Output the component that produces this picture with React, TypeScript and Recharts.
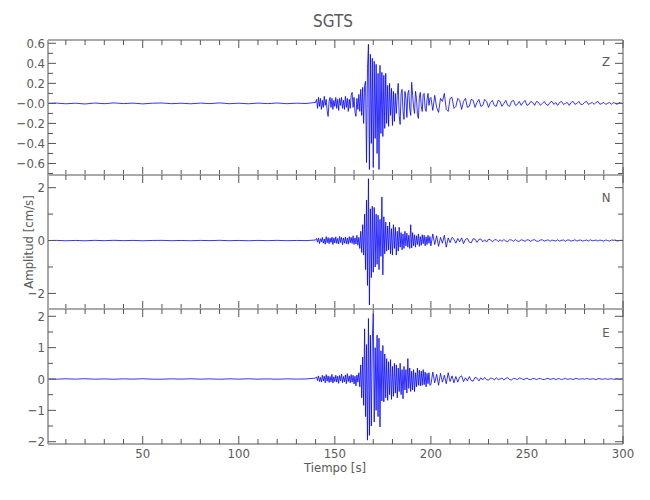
import React from "react";
import { LineChart, Line, XAxis, YAxis } from "recharts";

/**
 * SGTS 3성분 속도 기록 (Z / N / E)
 * 각 성분은 세 구간으로 기록: 사전잡음(5 s 간격), 강진동(0.5 s 간격), 코다(1 s 간격)
 */

// 샘플링 격자: 구간 시작시각 + 샘플 간격 (s)
const PRE_T0 = 0;
const PRE_DT = 5;
const MAIN_T0 = 140;
const MAIN_DT = 0.5;
const CODA_T0 = 200;
const CODA_DT = 1;

// ---- Z (수직) ----
const PRE_Z = [
  0, 0.003, -0.004, 0.002, -0.006, 0.004, -0.003, 0.005, -0.002, 0.003,
  -0.005, 0.002, 0.004, -0.003, 0.002, -0.004, 0.003, -0.002, 0.005, -0.003,
  0.002, -0.004, 0.003, -0.002, 0.004, -0.003, 0.002, -0.001,
];
const MAIN_Z = [
  0.01, 0.04, -0.05, 0.06, -0.03, 0.05, -0.06, 0.03, -0.04, 0.07,
  -0.02, 0.04, -0.07, -0.13, 0.02, 0.06, -0.04, 0.05, -0.06, 0.03,
  -0.03, 0.06, -0.05, 0.04, -0.07, 0.05, -0.02, 0.06, -0.05, 0.03,
  -0.06, 0.07, -0.04, 0.05, -0.08, 0.04, -0.05, 0.08, 0.11, -0.04,
  0.06, -0.09, -0.13, 0.05, -0.06, 0.09, -0.08, 0.14, -0.12, 0.16,
  -0.2, 0.18, 0.22, -0.59, 0.35, 0.59, -0.66, 0.49, -0.4, 0.45,
  -0.64, 0.42, -0.35, 0.39, -0.5, 0.3, -0.66, 0.38, -0.3, 0.31,
  -0.33, 0.28, -0.25, 0.3, -0.2, 0.18, -0.23, 0.2, -0.12, 0.15,
  -0.22, 0.12, -0.18, 0.1, -0.1, 0.08, 0.2, -0.12, -0.21, 0.1,
  0.14, -0.08, -0.16, 0.12, 0.05, -0.14, 0.1, 0.13, -0.06, -0.12,
  0.21, 0.08, -0.04, -0.1, 0.12, 0.05, -0.11, -0.15, 0.06, 0.11,
  -0.03, -0.08, 0.09, 0.1, -0.05, -0.08, 0.04, 0.1, -0.02, 0.05,
];
const CODA_Z = [
  0.06, -0.07, 0.08, -0.04, -0.09, 0.05, 0.02, 0.1, -0.06, -0.08,
  0.05, 0.06, -0.05, -0.03, 0.05, 0.03, -0.06, 0.02, 0.05, -0.04,
  -0.03, 0.04, 0.03, -0.04, 0.01, 0.04, -0.03, -0.02, 0.04, 0.02,
  -0.04, 0.01, 0.03, -0.02, -0.03, 0.03, 0.02, -0.03, 0.0, 0.03,
  -0.02, -0.03, 0.02, 0.03, -0.02, -0.01, 0.02, -0.02, 0.01, 0.03,
  -0.02, -0.01, 0.02, 0.01, -0.02, 0.02, 0.01, -0.02, 0.0, 0.02,
  -0.01, -0.02, 0.01, 0.02, -0.01, 0.01, -0.02, 0.01, 0.02, -0.01,
  0.0, 0.01, -0.02, 0.01, 0.02, -0.01, 0.0, 0.02, -0.01, -0.01,
  0.01, 0.02, -0.01, 0.0, 0.01, -0.01, 0.01, 0.02, -0.01, 0.0,
  0.01, -0.01, 0.0, 0.01, -0.01, 0.01, 0.0, -0.01, 0.01, 0.0,
  0.01,
];

// ---- N (남북) ----
const PRE_N = [
  0, 0.006, -0.008, 0.004, -0.01, 0.008, -0.005, 0.009, -0.004, 0.006,
  -0.009, 0.004, 0.007, -0.006, 0.004, -0.008, 0.006, -0.004, 0.009, -0.006,
  0.004, -0.008, 0.006, -0.004, 0.008, -0.006, 0.004, -0.002,
];
const MAIN_N = [
  0.02, 0.08, -0.06, 0.1, -0.12, 0.07, -0.05, 0.12, -0.1, 0.06,
  -0.14, 0.15, -0.08, 0.11, -0.12, 0.09, -0.07, 0.13, -0.15, 0.1,
  -0.09, 0.14, -0.11, 0.08, -0.13, 0.16, -0.07, 0.12, -0.16, 0.1,
  -0.1, 0.13, -0.12, 0.09, -0.14, 0.15, -0.08, 0.12, -0.11, 0.18,
  -0.15, 0.1, -0.13, 0.2, -0.18, 0.12, -0.3, 0.35, -0.45, 0.6,
  -0.55, 1.0, -1.1, 1.53, -1.7, 2.34, -2.44, 1.2, -1.4, 1.3,
  -1.2, 1.25, -1.0, 1.0, -0.9, 0.96, -1.1, 0.8, -0.6, 1.65,
  -1.3, 0.9, -0.5, 0.7, -0.4, 0.55, -0.35, 0.7, -0.5, 0.45,
  -0.55, 0.6, -0.3, 0.5, -0.55, 0.35, -0.4, 0.5, -0.25, 0.3,
  -0.35, 0.25, -0.3, 0.35, -0.2, 0.28, -0.25, 0.2, -0.3, 0.6,
  -0.28, 0.3, -0.2, 0.22, -0.25, 0.18, -0.15, 0.25, -0.22, 0.15,
  -0.18, 0.22, -0.12, 0.2, -0.2, 0.14, -0.15, 0.2, -0.1, 0.15,
];
const CODA_N = [
  -0.2, 0.25, -0.15, 0.18, -0.22, 0.12, -0.1, 0.2, -0.25, 0.1,
  -0.08, 0.12, 0.05, -0.1, 0.08, -0.05, 0.1, -0.12, 0.04, 0.08,
  -0.06, -0.09, 0.07, 0.05, -0.07, 0.04, 0.06, -0.05, 0.03, -0.06,
  0.05, 0.03, -0.05, 0.02, 0.04, -0.04, 0.03, -0.03, 0.04, -0.02,
  -0.04, 0.03, 0.02, -0.03, 0.04, -0.02, -0.03, 0.03, 0.01, -0.03,
  0.03, 0.02, -0.03, 0.02, 0.03, -0.02, -0.03, 0.02, 0.03, -0.02,
  0.0, 0.03, -0.03, 0.02, 0.0, -0.02, 0.03, -0.02, 0.01, 0.02,
  -0.03, 0.02, 0.02, -0.02, 0.0, 0.03, -0.02, 0.01, 0.02, -0.02,
  0.0, 0.02, -0.02, 0.03, -0.01, 0.0, 0.02, -0.02, 0.02, 0.0,
  -0.02, 0.02, 0.0, -0.02, 0.02, 0.01, 0.02, -0.02, 0.0, 0.01,
  0.0,
];

// ---- E (동서) ----
const PRE_E = [
  0, -0.005, 0.007, -0.004, 0.009, -0.006, 0.004, -0.008, 0.005, -0.004,
  0.008, -0.005, -0.006, 0.005, -0.004, 0.007, -0.005, 0.004, -0.008, 0.005,
  -0.004, 0.007, -0.005, 0.004, -0.007, 0.005, -0.003, 0.002,
];
const MAIN_E = [
  0.03, 0.07, -0.05, 0.1, -0.08, 0.05, -0.1, 0.12, -0.06, 0.09,
  -0.12, 0.14, -0.07, 0.1, -0.11, 0.08, -0.09, 0.15, -0.13, 0.07,
  -0.08, 0.12, -0.1, 0.09, -0.14, 0.11, -0.06, 0.16, -0.12, 0.08,
  -0.09, 0.13, -0.15, 0.17, -0.08, 0.1, -0.12, 0.14, -0.1, 0.12,
  -0.16, 0.09, -0.22, 0.13, -0.1, 0.2, -0.25, 0.45, -0.6, 0.7,
  -0.84, 1.6, -1.2, 1.1, -1.95, 1.93, -1.8, 1.4, -1.5, 1.2,
  2.09, -1.37, 1.0, -1.0, 1.4, -1.2, 1.3, -1.53, 0.9, -0.7,
  1.07, -0.73, 0.8, -0.6, 0.65, -0.68, 0.55, -0.5, 0.62, -0.65,
  0.4, -0.55, 0.5, -0.45, 0.45, -0.6, 0.35, -0.4, 0.5, -0.5,
  0.3, -0.63, 0.4, -0.35, 0.3, -0.45, 0.65, -0.3, 0.35, -0.4,
  0.25, -0.35, 0.3, -0.4, 0.2, -0.25, 0.35, -0.2, 0.28, -0.22,
  0.25, -0.2, 0.3, -0.18, 0.22, -0.25, 0.18, -0.15, 0.2, -0.2,
];
const CODA_E = [
  -0.18, 0.22, -0.12, 0.15, -0.2, 0.18, -0.1, 0.12, -0.15, 0.2,
  -0.08, 0.1, -0.12, 0.08, -0.1, 0.06, 0.1, -0.08, 0.04, -0.06,
  0.08, -0.05, -0.07, 0.05, 0.03, -0.06, 0.04, -0.03, 0.05, -0.02,
  -0.04, 0.03, 0.02, -0.03, 0.04, -0.02, 0.0, 0.03, -0.03, 0.02,
  0.04, -0.02, -0.03, 0.02, 0.01, -0.02, 0.03, 0.02, -0.02, 0.0,
  0.03, -0.01, -0.02, 0.02, 0.01, -0.02, 0.01, 0.02, -0.01, -0.02,
  0.01, 0.02, -0.01, 0.0, 0.02, -0.02, 0.01, 0.01, -0.02, 0.0,
  0.02, -0.01, 0.0, 0.01, -0.02, 0.01, 0.02, -0.01, 0.0, 0.01,
  -0.01, 0.02, 0.0, -0.01, 0.01, 0.0, -0.02, 0.01, 0.01, -0.01,
  0.0, 0.01, -0.01, 0.0, 0.01, -0.01, 0.0, 0.01, -0.01, 0.0,
  0.01,
];

// ---- 축 눈금 ----
const X_TICKS = [
  10, 20, 30, 40, 50, 60, 70, 80, 90, 100, 110, 120, 130, 140, 150,
  160, 170, 180, 190, 200, 210, 220, 230, 240, 250, 260, 270, 280, 290, 300,
];
const X_MAJOR = [50, 100, 150, 200, 250, 300];
const X_DOMAIN = [0.7, 300];

const Z_TICKS = [-0.7, -0.6, -0.5, -0.4, -0.3, -0.2, -0.1, 0, 0.1, 0.2, 0.3, 0.4, 0.5, 0.6];
const Z_MAJOR = [-0.6, -0.4, -0.2, 0, 0.2, 0.4, 0.6];
const Z_DOMAIN = [-0.715, 0.633];

const N_TICKS = [-2, -1, 0, 1, 2];
const N_MAJOR = [-2, 0, 2];
const N_DOMAIN = [-2.59, 2.48];

const E_TICKS = [-2, -1.5, -1, -0.5, 0, 0.5, 1, 1.5, 2];
const E_MAJOR = [-2, -1, 0, 1, 2];
const E_DOMAIN = [-2.073, 2.233];

const FONT = "'Liberation Sans Narrow', 'DejaVu Sans Condensed', sans-serif";
const TEXT = "#5a5a5a";
const FRAME = "#a9a9a9";
const TICK = "#555555";
const TRACE = "#0000ff";

type Row = { t: number; v: number };

function toRows(pre: number[], main: number[], coda: number[]): Row[] {
  const rows: Row[] = [];
  pre.forEach((v, i) => rows.push({ t: PRE_T0 + i * PRE_DT, v }));
  main.forEach((v, i) => rows.push({ t: MAIN_T0 + i * MAIN_DT, v }));
  coda.forEach((v, i) => rows.push({ t: CODA_T0 + i * CODA_DT, v }));
  return rows;
}

const minus = (s: string) => s.replace("-", "\u2212");
const fmtZ = (v: number) => (v === 0 ? "\u22120.0" : minus(v.toFixed(1)));
const fmtInt = (v: number) => minus(String(v));

type Side = "bottom" | "top" | "left" | "right";

/** 안쪽으로 향하는 눈금 (주눈금 길게, 보조눈금 짧게) */
function makeTick(side: Side, major: number[], fmt?: (v: number) => string) {
  return (p: any) => {
    const { x, y, payload } = p;
    const v = payload.value as number;
    const isMajor = major.includes(v);
    const len = isMajor ? 8 : 5;
    let line;
    if (side === "bottom") line = <line x1={x} x2={x} y1={y} y2={y - len} />;
    else if (side === "top") line = <line x1={x} x2={x} y1={y} y2={y + len} />;
    else if (side === "left") line = <line x1={x} x2={x + len} y1={y} y2={y} />;
    else line = <line x1={x} x2={x - len} y1={y} y2={y} />;
    return (
      <g>
        <g stroke={TICK} strokeWidth={1}>{line}</g>
        {fmt && isMajor && side === "left" && (
          <text x={x - 3} y={y} textAnchor="end" dominantBaseline="central"
            fontFamily={FONT} fontSize={13} fill={TEXT}>
            {fmt(v)}
          </text>
        )}
        {fmt && isMajor && side === "bottom" && (
          <text x={x} y={y + 14} textAnchor="middle"
            fontFamily={FONT} fontSize={13} fill={TEXT}>
            {fmt(v)}
          </text>
        )}
      </g>
    );
  };
}

interface PanelProps {
  rows: Row[];
  plotTop: number;
  plotH: number;
  domain: number[];
  ticks: number[];
  major: number[];
  fmt: (v: number) => string;
  xLabels?: boolean;
}

const PAD_TOP = 20;
const PAD_BOTTOM = 30;
// 축 두께 1px (0이면 recharts가 축을 그리지 않음)
const AX = 1;

function Panel({ rows, plotTop, plotH, domain, ticks, major, fmt, xLabels }: PanelProps) {
  const axisLine = { stroke: FRAME, strokeWidth: 2 };
  return (
    <div style={{ position: "absolute", left: 0, top: plotTop - PAD_TOP }}>
      <LineChart
        width={650}
        height={plotH + PAD_TOP + PAD_BOTTOM}
        data={rows}
        margin={{ top: PAD_TOP - AX, right: 27 - AX, bottom: PAD_BOTTOM - AX, left: 48 - AX }}
      >
        <XAxis
          xAxisId="b"
          dataKey="t"
          type="number"
          domain={X_DOMAIN}
          allowDataOverflow
          ticks={X_TICKS}
          interval={0}
          height={AX}
          tickSize={0}
          tickMargin={0}
          tickLine={false}
          axisLine={axisLine}
          tick={makeTick("bottom", X_MAJOR, xLabels ? (v) => String(v) : undefined)}
        />
        <XAxis
          xAxisId="t"
          orientation="top"
          dataKey="t"
          type="number"
          domain={X_DOMAIN}
          allowDataOverflow
          ticks={X_TICKS}
          interval={0}
          height={AX}
          tickSize={0}
          tickMargin={0}
          tickLine={false}
          axisLine={axisLine}
          tick={makeTick("top", X_MAJOR)}
        />
        <YAxis
          yAxisId="l"
          type="number"
          domain={domain}
          allowDataOverflow
          ticks={ticks}
          interval={0}
          width={AX}
          tickSize={0}
          tickMargin={0}
          tickLine={false}
          axisLine={axisLine}
          tick={makeTick("left", major, fmt)}
        />
        <YAxis
          yAxisId="r"
          orientation="right"
          type="number"
          domain={domain}
          allowDataOverflow
          ticks={ticks}
          interval={0}
          width={AX}
          tickSize={0}
          tickMargin={0}
          tickLine={false}
          axisLine={axisLine}
          tick={makeTick("right", major)}
        />
        <Line
          xAxisId="b"
          yAxisId="l"
          dataKey="v"
          type="linear"
          stroke={TRACE}
          strokeWidth={0.8}
          dot={false}
          activeDot={false}
          isAnimationActive={false}
        />
      </LineChart>
    </div>
  );
}

export default function App() {
  const rowsZ = toRows(PRE_Z, MAIN_Z, CODA_Z);
  const rowsN = toRows(PRE_N, MAIN_N, CODA_N);
  const rowsE = toRows(PRE_E, MAIN_E, CODA_E);

  return (
    <div style={{ position: "absolute", left: 0, top: 0, width: 650, height: 500, background: "#fff" }}>
      <Panel rows={rowsZ} plotTop={40} plotH={135} domain={Z_DOMAIN} ticks={Z_TICKS} major={Z_MAJOR} fmt={fmtZ} />
      <Panel rows={rowsN} plotTop={175} plotH={134} domain={N_DOMAIN} ticks={N_TICKS} major={N_MAJOR} fmt={fmtInt} />
      <Panel rows={rowsE} plotTop={309} plotH={135} domain={E_DOMAIN} ticks={E_TICKS} major={E_MAJOR} fmt={fmtInt} xLabels />

      {/* 제목, 축 제목, 성분 라벨 */}
      <svg width={650} height={500} style={{ position: "absolute", left: 0, top: 0, pointerEvents: "none" }}>
        <g fontFamily={FONT} fill={TEXT}>
          <text x={333} y={27} textAnchor="middle" fontSize={17}>SGTS</text>
          <text x={335} y={472} textAnchor="middle" fontSize={13}>Tiempo [s]</text>
          <text transform="translate(28,242) rotate(-90)" textAnchor="middle" dominantBaseline="central" fontSize={13}>
            Amplitud [cm/s]
          </text>
          <text x={606} y={61} textAnchor="middle" dominantBaseline="central" fontSize={13}>Z</text>
          <text x={606} y={197} textAnchor="middle" dominantBaseline="central" fontSize={13}>N</text>
          <text x={606} y={332} textAnchor="middle" dominantBaseline="central" fontSize={13}>E</text>
        </g>
      </svg>
    </div>
  );
}
